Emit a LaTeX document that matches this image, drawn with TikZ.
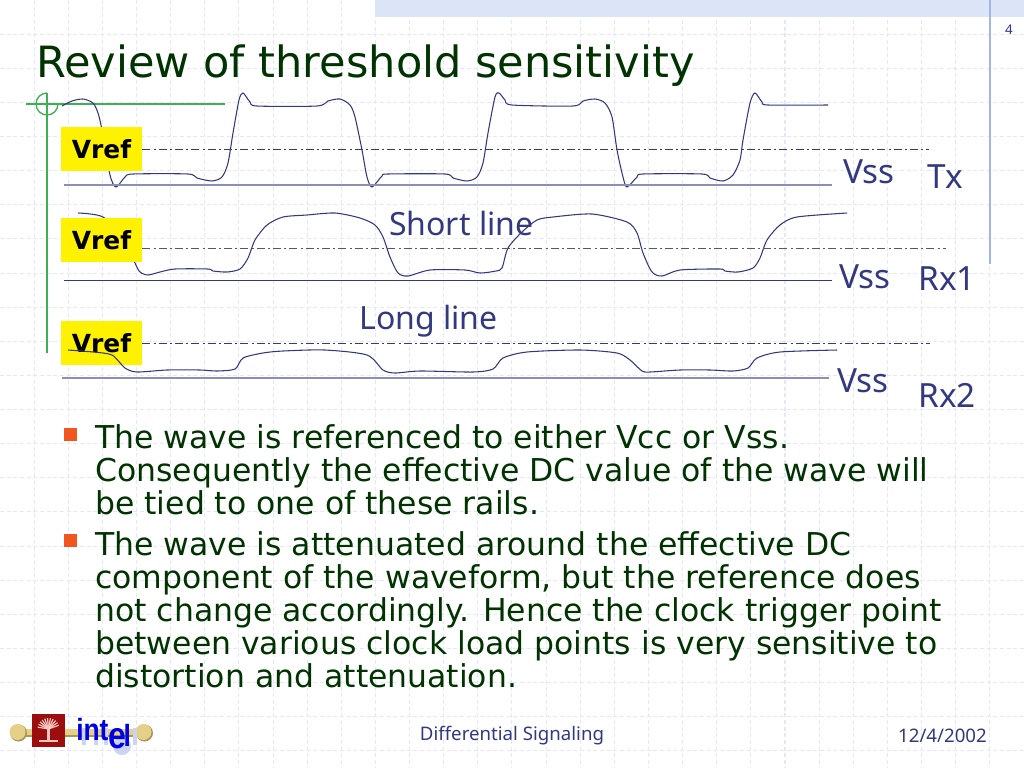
\documentclass[tikz,border=0pt]{standalone}
\usepackage{fontspec}
\setmainfont{DejaVu Sans}
\newfontfamily\labelfont{Noto Sans}
\newfontfamily\logofont[FakeStretch=0.86]{Liberation Sans}
\usetikzlibrary{shapes.geometric,arrows}
\definecolor{gridblue}{HTML}{E3E7F7}
\definecolor{bandblue}{HTML}{DCE4F8}
\definecolor{ruleblue}{HTML}{A4B4E4}
\definecolor{inkblue}{HTML}{34397F}
\definecolor{railblue}{HTML}{8C8EBA}
\definecolor{titlegreen}{HTML}{003300}
\definecolor{markgreen}{HTML}{3FAF4F}
\definecolor{bulletred}{HTML}{F0561E}
\definecolor{logotan}{HTML}{E6D088}
\definecolor{logoedge}{HTML}{A89858}
\definecolor{logored}{HTML}{9C0E0E}
\definecolor{logopink}{HTML}{F4C8C0}
\definecolor{logoshade}{HTML}{CBD4F0}
\tikzstyle{gridline} = [gridblue, densely dashed, line width=0.8pt]
\tikzstyle{wave} = [inkblue, line width=0.8pt, smooth, tension=0.45]
\tikzstyle{rail} = [railblue, line width=1.5pt]
\tikzstyle{vrefbox} = [rectangle, fill=yellow, minimum width=60.75pt, minimum height=33pt, inner sep=0pt, font=\bfseries\fontsize{18.7}{20}\selectfont]
\tikzstyle{refline} = [inkblue, line width=0.6pt, dash pattern=on 6pt off 2.5pt on 1.5pt off 2.25pt]
\tikzstyle{tag} = [anchor=base west, inner sep=0pt, text=inkblue, font=\labelfont\fontsize{25}{25}\selectfont]
\tikzstyle{linetag} = [tag, font=\labelfont\fontsize{24}{24}\selectfont]
\tikzstyle{bodytext} = [anchor=north west, inner sep=0pt, align=left, text=titlegreen, font=\fontsize{23.6}{24.75}\selectfont]
\tikzstyle{bullet} = [rectangle, fill=bulletred, minimum size=9.5pt, inner sep=0pt]
\tikzstyle{foot} = [inner sep=0pt, text=inkblue, font=\labelfont\fontsize{14}{14}\selectfont]
\tikzstyle{logotext} = [anchor=base west, inner sep=0pt, text=blue!90!black, font=\logofont\bfseries\fontsize{23}{23}\selectfont]
\begin{document}
\begin{tikzpicture}[x=0.75pt,y=-0.75pt]
\useasboundingbox (0,0) rectangle (1024,768);
\fill [white] (0,0) rectangle (1024,768);
\foreach \i in {1,...,29}
  \draw [gridline] (34.13*\i,0) -- (34.13*\i,768);
\foreach \i in {1,...,22}
  \draw [gridline] (0,34.13*\i) -- (1024,34.13*\i);
\fill [bandblue] (375,0) rectangle (1024,17);
\draw [ruleblue, line width=1pt] (990,0) -- (990,264);

\node (title) [anchor=base west, inner sep=0pt, text=titlegreen, font=\fontsize{32.3}{33}\selectfont] at (36,77) {Review of threshold sensitivity};
\node (pagenum) [foot, font=\labelfont\fontsize{10}{10}\selectfont] at (1009,30) {4};

\draw [markgreen, line width=1pt] (26,104) -- (225,104);
\draw [markgreen, line width=1pt] (47,93) -- (47,353);
\draw [markgreen, line width=1pt] (47,93) arc (270:0:11);

\draw [wave] plot coordinates {(62,106) (72,101) (83,99) (93,103) (98,113) (102,130) (110,175) (116,187) (125,177) (133,174) (188,174) (197,178) (212,181) (222,177) (228,163) (233,133) (239,100) (243,93) (250,102) (257,106) (317,106) (328,101) (340,99) (350,105) (355,117) (362,150) (367,177) (372,187) (382,176) (388,174) (445,174) (453,178) (467,181) (477,177) (483,163) (488,133) (495,97) (499,93) (505,100) (512,105) (573,106) (583,101) (595,99) (605,103) (612,117) (617,150) (623,177) (627,187) (637,177) (643,174) (702,174) (710,178) (723,181) (733,175) (740,160) (743,140) (750,103) (755,93) (762,102) (768,105) (828,105)};
\draw [wave] plot coordinates {(78,213) (103,217) (125,240) (135,263) (140,272) (148,275) (160,272) (175,269) (208,269) (213,271) (227,272) (240,269) (248,258) (255,240) (267,225) (283,217) (307,215) (335,213) (360,218) (375,225) (383,237) (390,257) (398,273) (408,276) (430,270) (465,270) (480,273) (496,271) (502,268) (508,248) (522,232) (537,220) (553,217) (592,214) (627,222) (637,233) (643,253) (652,272) (662,276) (680,270) (720,269) (725,271) (738,272) (753,268) (760,258) (767,240) (780,225) (797,217) (847,213)};

\node (vreftx) [vrefbox] at (101.5,149) {Vref};
\node (vrefrxa) [vrefbox] at (101.5,240) {Vref};
\node (vrefrxb) [vrefbox] at (101.5,343) {Vref};

\draw [wave] plot coordinates {(68,350) (93,352) (112,355) (125,368) (137,372) (167,370) (200,370) (217,371) (235,369) (243,358) (263,353) (283,351) (325,350) (367,355) (383,370) (395,373) (420,371) (473,372) (493,369) (503,358) (527,352) (580,350) (617,353) (630,360) (642,371) (650,372) (680,370) (710,370) (733,371) (748,368) (757,358) (780,352) (837,350)};

\coordinate (reftxend) at (929,149.5);
\coordinate (refrxaend) at (946,248.5);
\coordinate (refrxbend) at (930,343);
\draw [refline] (vreftx.east |- reftxend) -- (reftxend);
\draw [refline, draw=black!40!railblue, line width=1.1pt] (vrefrxa.east |- refrxaend) -- (refrxaend);
\draw [refline] (vrefrxb.east |- refrxbend) -- (refrxbend);

\draw [rail] (64,185) -- (832,185);
\draw [inkblue, line width=0.75pt] (64,280.5) -- (832,280.5);
\draw [rail, line width=1.8pt] (62,378) -- (829,378);

\node (vsstx) [tag] at (843,183) {Vss};
\node (tx) [tag] at (927,188) {Tx};
\node (shortline) [linetag] at (389,235) {Short line};
\node (vssrxa) [tag] at (839,288) {Vss};
\node (rxa) [tag] at (918,290) {Rx1};
\node (longline) [linetag] at (359,329) {Long line};
\node (vssrxb) [tag] at (837,392) {Vss};
\node (rxb) [tag] at (918,407) {Rx2};

\node (bulleta) [bullet] at (70.5,434.5) {};
\node (bulletb) [bullet] at (70.5,540.5) {};
\node (parta) [bodytext] at (95,424) {The wave is referenced to either Vcc or Vss.\\Consequently the effective DC value of the wave will\\be tied to one of these rails.};
\node (partb) [bodytext] at (95,531) {The wave is attenuated around the effective DC\\component of the waveform, but the reference does\\not change accordingly. Hence the clock trigger point\\between various clock load points is very sensitive to\\distortion and attenuation.};

\draw [logoedge, line width=6pt] (18,733) -- (143,733);
\draw [logotan, line width=5pt] (18,732) -- (143,732);
\fill [logoedge] (18.5,733) circle (8.5);
\fill [logotan] (17.5,732) circle (8);
\fill [logoedge] (144.5,733) circle (8.5);
\fill [logotan] (143.5,732) circle (8);
\node (seal) [rectangle, fill=logored, minimum size=24.75pt, inner sep=0pt] at (48.5,730.5) {};
\foreach \a in {190,205,...,350}
  \draw [logopink, line width=0.9pt] (48.5,729) -- ++(\a:11);
\draw [logopink, line width=2.2pt] (48.5,726) -- (48.5,741);
\draw [logopink, line width=1.4pt] (39,741) -- (58,741);
\foreach \sx in {84,96,106,135}
  \draw [logoshade, line width=2.5pt] (\sx,728) -- (\sx,745);
\fill [logoshade] (122,746) circle (9);
\node (intel) [logotext] at (76,740) {int\raisebox{-6pt}{\fontsize{28}{28}\selectfont e}\kern-2pt\raisebox{-4.5pt}{l}};

\node (footer) [foot] at (512,736) {Differential Signaling};
\node (footdate) [foot] at (942.5,736) {12/4/2002};
\end{tikzpicture}
\end{document}
